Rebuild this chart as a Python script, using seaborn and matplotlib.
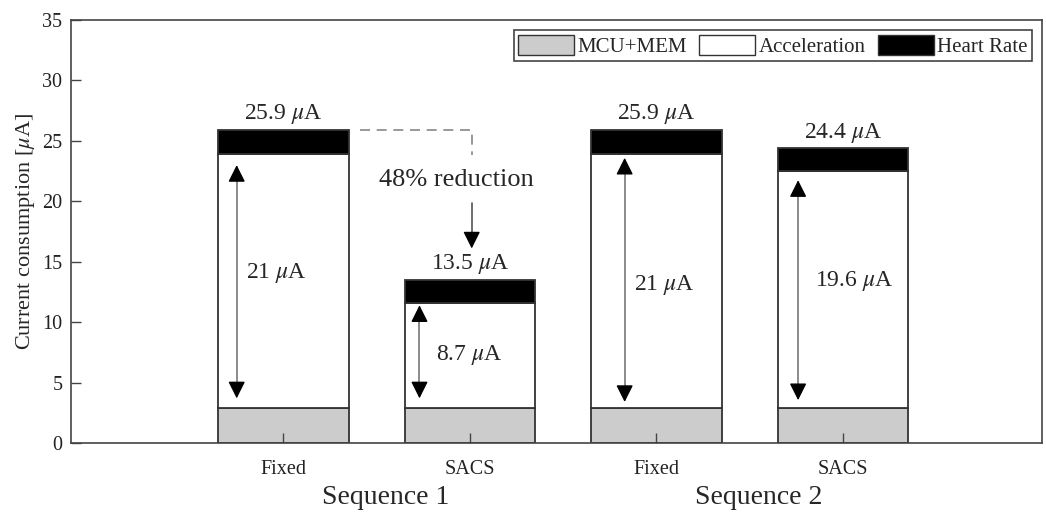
import numpy as np
import pandas as pd
import matplotlib
matplotlib.use("Agg")
import matplotlib.pyplot as plt
from matplotlib.patches import Patch
import seaborn as sns

# Data
methods = ["Fixed", "SACS", "Fixed", "SACS"]
sequences = ["Sequence 1", "Sequence 2"]
mcu_mem = [2.9, 2.9, 2.9, 2.9]
acceleration = [21.0, 8.7, 21.0, 19.6]
heart_rate = [2.0, 1.9, 2.0, 1.9]
totals = [25.9, 13.5, 25.9, 24.4]
accel_labels = ["21", "8.7", "21", "19.6"]
reduction_text = "48% reduction"

sns.set_theme(style="white")
plt.rcParams["font.family"] = ["Liberation Serif", "DejaVu Serif"]
plt.rcParams["mathtext.fontset"] = "stix"

pos = np.arange(1, len(methods) + 1)
df = pd.DataFrame({
    "pos": pos,
    "mcu": mcu_mem,
    "acc": acceleration,
    "hr": heart_rate,
})
df["acc_bottom"] = df["mcu"]
df["hr_bottom"] = df["mcu"] + df["acc"]

fig = plt.figure(figsize=(10.46, 5.14), dpi=100)
ax = fig.add_axes([0.0676, 0.138, 0.929, 0.823])

edge = "#333333"
bar_kw = dict(native_scale=True, width=0.7, errorbar=None, edgecolor=edge,
              linewidth=1.3, ax=ax)
sns.barplot(data=df, x="pos", y="mcu", color="#cccccc", saturation=1, **bar_kw)
sns.barplot(data=df, x="pos", y="acc", bottom=df["acc_bottom"], color="white",
            saturation=1, **bar_kw)
sns.barplot(data=df, x="pos", y="hr", bottom=df["hr_bottom"], color="black",
            saturation=1, **bar_kw)

ax.set_axisbelow(False)
ax.set_xlim(-0.14, 5.07)
ax.set_ylim(0, 35)
ax.set_xticks(pos)
ax.set_xticklabels(methods)
ax.set_yticks(np.arange(0, 36, 5))
ax.set_xlabel("")
ax.set_ylabel(r"Current consumption [$\mu$A]", fontsize=16)
ax.tick_params(axis="both", direction="in", length=7, width=1, color="#444444",
               labelsize=14.5, labelcolor="#222222", pad=6,
               bottom=True, left=True, top=False, right=False)
ax.tick_params(axis="x", pad=12)
for sp in ax.spines.values():
    sp.set_color("#444444")
    sp.set_linewidth(1.2)

# total labels
for p, t in zip(pos, totals):
    ax.text(p, t + 0.3, rf"{t} $\mu$A", ha="center", va="bottom", fontsize=17)

# double arrows over the acceleration segment
arrow_dx = [-0.25, -0.27, -0.17, -0.24]
arrow_lo = [3.7, 3.7, 3.4, 3.55]
arrow_hi = [23.0, 11.4, 23.6, 21.75]
label_y = [14.1, 7.3, 13.1, 13.4]
label_dx = [-0.2, -0.18, -0.12, -0.15]
head = dict(arrowstyle="-|>", color="black", lw=1.0, mutation_scale=26,
            shrinkA=0, shrinkB=0)
for p, dx, lo, hi, ly, lx, lab in zip(pos, arrow_dx, arrow_lo, arrow_hi,
                                       label_y, label_dx, accel_labels):
    ax.plot([p + dx, p + dx], [lo + 0.8, hi - 0.8], color="#777777", lw=1.2)
    ax.annotate("", xy=(p + dx, hi), xytext=(p + dx, hi - 1.0), arrowprops=head)
    ax.annotate("", xy=(p + dx, lo), xytext=(p + dx, lo + 1.0), arrowprops=head)
    ax.text(p + lx, ly, rf"{lab} $\mu$A", ha="left", va="center", fontsize=17)

# reduction annotation
x0 = pos[0] + 0.41
x1 = pos[1] + 0.01
ax.plot([x0, x1, x1], [totals[0], totals[0], 23.8], ls=(0, (6, 4)),
        color="#888888", lw=1.2)
ax.text(x1 - 0.08, 21.75, reduction_text, ha="center", va="center", fontsize=19)
ax.plot([x1, x1], [19.85, 17.0], color="#555555", lw=1.2)
ax.annotate("", xy=(x1, 16.1), xytext=(x1, 17.2), arrowprops=head)

# sequence labels
trans = ax.get_xaxis_transform()
for i, s in enumerate(sequences):
    ax.text(pos[2 * i] + 0.55, -0.128, s, transform=trans, ha="center",
            va="center", fontsize=20)

handles = [
    Patch(facecolor="#cccccc", edgecolor=edge, label="MCU+MEM"),
    Patch(facecolor="white", edgecolor=edge, label="Acceleration"),
    Patch(facecolor="black", edgecolor=edge, label="Heart Rate"),
]
leg = ax.legend(handles=handles, loc="upper right", ncol=3, fontsize=15,
                frameon=True, fancybox=False, framealpha=1, edgecolor="#444444",
                handlelength=2.7, handleheight=1.1, handletextpad=0.15,
                columnspacing=0.6, borderpad=0.2, borderaxespad=0.5)
leg.get_frame().set_linewidth(1.2)

plt.savefig("out.png", dpi=100)
plt.close()
